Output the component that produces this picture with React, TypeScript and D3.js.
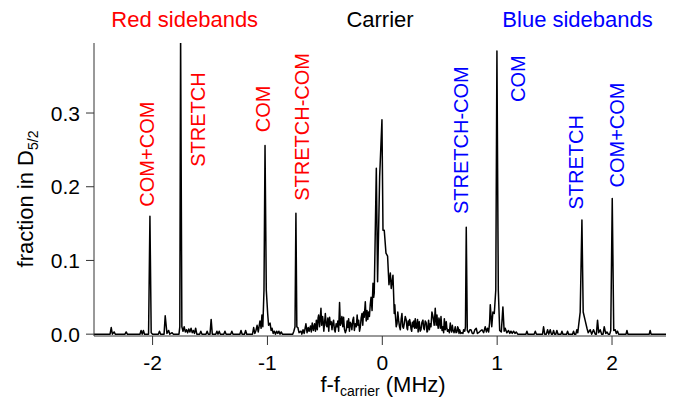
import React from 'react';
import * as d3 from 'd3';

// spectrum: [f - f_carrier (MHz), fraction in D5/2]
const redSidebandScan: [number, number][] = [
  [-2.51, 0], [-2.37, 0], [-2.36, 0.009], [-2.35, 0], [-2.335, 0.003], [-2.325, 0],
  [-2.24, 0], [-2.23, 0.003], [-2.22, 0],
  [-2.11, 0], [-2.1, 0.005], [-2.09, 0], [-2.08, 0.005], [-2.07, 0],
  [-2.035, 0], [-2.023, 0.16], [-2.012, 0.002], [-2.0, 0],
  [-1.95, 0], [-1.94, 0.004], [-1.93, 0],
  [-1.9, 0], [-1.89, 0.025], [-1.875, 0.001], [-1.86, 0.005], [-1.85, 0], [-1.83, 0.002], [-1.82, 0],
  [-1.77, 0], [-1.763, 0.01], [-1.756, 0.41], [-1.745, 0.01], [-1.735, 0.004], [-1.725, 0.01],
  [-1.715, 0.003], [-1.705, 0.006], [-1.695, 0.002], [-1.685, 0.007], [-1.675, 0.003], [-1.665, 0.008],
  [-1.655, 0.002], [-1.645, 0.005], [-1.635, 0.001], [-1.625, 0.008], [-1.615, 0],
  [-1.59, 0], [-1.58, 0.004], [-1.57, 0],
  [-1.535, 0], [-1.525, 0.004], [-1.515, 0],
  [-1.5, 0], [-1.49, 0.02], [-1.48, 0],
  [-1.45, 0], [-1.44, 0.004], [-1.43, 0], [-1.42, 0.004], [-1.41, 0],
  [-1.38, 0], [-1.37, 0.004], [-1.36, 0],
  [-1.32, 0], [-1.31, 0.004], [-1.3, 0],
  [-1.24, 0], [-1.23, 0.005], [-1.22, 0],
  [-1.2, 0], [-1.19, 0.005], [-1.18, 0],
  [-1.13, 0], [-1.12, 0.009], [-1.11, 0.001], [-1.1, 0.005], [-1.09, 0.012], [-1.08, 0.003],
  [-1.065, 0.018], [-1.055, 0.008], [-1.048, 0.026], [-1.04, 0.01], [-1.03, 0.06], [-1.021, 0.256],
  [-1.01, 0.06], [-0.998, 0.028], [-0.99, 0.012], [-0.977, 0.015], [-0.968, 0.005], [-0.96, 0.008],
  [-0.95, 0.001], [-0.94, 0.004], [-0.93, 0], [-0.92, 0.004], [-0.91, 0.001], [-0.9, 0.004],
  [-0.89, 0], [-0.88, 0.003], [-0.87, 0],
  [-0.78, 0], [-0.77, 0.004], [-0.76, 0.01], [-0.752, 0.164], [-0.744, 0.01], [-0.735, 0.009],
  [-0.725, 0.002], [-0.708, 0.004], [-0.7, 0], [-0.69, 0.006], [-0.68, 0.001], [-0.665, 0.014],
  [-0.655, 0.002], [-0.645, 0.009], [-0.637, 0.004], [-0.625, 0.011], [-0.618, 0.003], [-0.61, 0.015],
  [-0.6, 0.005],
];

const carrierScan: [number, number][] = [
  [-0.59, 0.014], [-0.582, 0.004], [-0.574, 0.019], [-0.566, 0.006], [-0.559, 0.022], [-0.554, 0.026],
  [-0.546, 0.01], [-0.534, 0.035], [-0.528, 0.012], [-0.52, 0.024], [-0.516, 0.019], [-0.509, 0.004],
  [-0.5, 0.02], [-0.496, 0.028], [-0.488, 0.012], [-0.481, 0.01], [-0.474, 0.022], [-0.466, 0.004],
  [-0.459, 0.023], [-0.452, 0.013], [-0.445, 0.017], [-0.438, 0.006], [-0.431, 0.015], [-0.424, 0.019],
  [-0.417, 0.006], [-0.41, 0.003], [-0.402, 0.014], [-0.394, 0.01], [-0.387, 0.018], [-0.38, 0.004],
  [-0.372, 0.043], [-0.365, 0.012], [-0.359, 0.015], [-0.352, 0.024], [-0.344, 0.01], [-0.337, 0.023],
  [-0.33, 0.007], [-0.322, 0.002], [-0.313, 0.006], [-0.306, 0.018], [-0.3, 0.009], [-0.293, 0.021],
  [-0.286, 0.004], [-0.279, 0.016], [-0.272, 0.014], [-0.265, 0.006], [-0.257, 0.019], [-0.25, 0.023],
  [-0.243, 0.005], [-0.235, 0.014], [-0.226, 0.01], [-0.219, 0.026], [-0.212, 0.012], [-0.206, 0.019],
  [-0.198, 0.004], [-0.191, 0.01], [-0.184, 0.022], [-0.177, 0.028], [-0.17, 0.012], [-0.163, 0.03],
  [-0.157, 0.023], [-0.148, 0.044], [-0.14, 0.018], [-0.133, 0.032], [-0.126, 0.02], [-0.119, 0.03],
  [-0.112, 0.024], [-0.105, 0.04], [-0.098, 0.05], [-0.089, 0.032], [-0.081, 0.069], [-0.075, 0.05],
  [-0.07, 0.056], [-0.052, 0.225], [-0.041, 0.071], [-0.023, 0.214], [-0.003, 0.291], [0.006, 0.141],
  [0.017, 0.141], [0.032, 0.11], [0.046, 0.106], [0.058, 0.067], [0.07, 0.083], [0.078, 0.062],
  [0.093, 0.08], [0.104, 0.028], [0.109, 0.04], [0.113, 0.028], [0.121, 0.01], [0.128, 0.014],
  [0.135, 0.03], [0.142, 0.019], [0.15, 0.01], [0.157, 0.006], [0.164, 0.02], [0.171, 0.028],
  [0.178, 0.01], [0.184, 0.008], [0.191, 0.014], [0.2, 0.024], [0.209, 0.019], [0.215, 0.008],
  [0.22, 0.006], [0.226, 0.018], [0.232, 0.012], [0.238, 0.02], [0.244, 0.015], [0.25, 0.007],
  [0.256, 0.004], [0.262, 0.016], [0.267, 0.01], [0.275, 0.018], [0.281, 0.008], [0.287, 0.021],
  [0.295, 0.008], [0.302, 0.012], [0.307, 0.02], [0.312, 0.003], [0.317, 0.01], [0.322, 0.017],
  [0.33, 0.004], [0.337, 0.006], [0.345, 0.016], [0.354, 0.019], [0.36, 0.008], [0.366, 0.006],
  [0.374, 0.018], [0.383, 0.015], [0.389, 0.003], [0.394, 0.004], [0.403, 0.019], [0.41, 0.006],
  [0.417, 0.014], [0.424, 0.01], [0.432, 0.03], [0.441, 0.024], [0.452, 0.012], [0.461, 0.035],
  [0.469, 0.012], [0.476, 0.026], [0.481, 0.014], [0.487, 0.008], [0.493, 0.022], [0.499, 0.017],
  [0.505, 0.008], [0.511, 0.024], [0.516, 0.012], [0.52, 0.005], [0.528, 0.01], [0.534, 0.002],
  [0.54, 0.021], [0.548, 0.006], [0.557, 0.017], [0.562, 0.008], [0.568, 0.004], [0.577, 0.006],
  [0.584, 0.002], [0.592, 0.015], [0.598, 0.006], [0.604, 0.003], [0.61, 0.012], [0.615, 0.006],
  [0.625, 0.002], [0.635, 0.01], [0.642, 0.002], [0.65, 0.003], [0.656, 0.01], [0.662, 0.008],
  [0.668, 0.001], [0.673, 0.006], [0.684, 0.001], [0.694, 0.002], [0.702, 0.001], [0.708, 0.006],
];

const blueSidebandScan: [number, number][] = [
  [0.718, 0.004], [0.724, 0.01], [0.731, 0.145], [0.74, 0.005], [0.751, 0.002], [0.762, 0.006],
  [0.772, 0.006], [0.784, 0.001], [0.795, 0.001], [0.806, 0.006], [0.818, 0.008], [0.828, 0.001],
  [0.838, 0.002], [0.852, 0.004], [0.868, 0.006], [0.882, 0.002], [0.896, 0.01], [0.906, 0.003],
  [0.916, 0.008], [0.926, 0.003], [0.934, 0.015], [0.94, 0.04], [0.953, 0.01], [0.963, 0.03],
  [0.975, 0.028], [0.988, 0.06], [0.998, 0.384], [1.01, 0.06], [1.022, 0.005], [1.036, 0.003],
  [1.05, 0.037], [1.061, 0.004], [1.07, 0.008], [1.084, 0.002], [1.099, 0.005], [1.11, 0.001],
  [1.12, 0.004], [1.131, 0.001], [1.143, 0.004], [1.155, 0.001], [1.166, 0.003], [1.179, 0],
  [1.25, 0], [1.259, 0.004], [1.268, 0],
  [1.322, 0], [1.332, 0.004], [1.342, 0],
  [1.395, 0], [1.404, 0.01], [1.414, 0], [1.428, 0], [1.439, 0.006], [1.449, 0], [1.462, 0.006],
  [1.472, 0], [1.482, 0], [1.491, 0.005], [1.5, 0], [1.51, 0], [1.52, 0.005], [1.53, 0],
  [1.555, 0], [1.564, 0.004], [1.573, 0],
  [1.604, 0], [1.613, 0.004], [1.622, 0],
  [1.656, 0], [1.665, 0.004], [1.674, 0], [1.685, 0], [1.694, 0.006], [1.702, 0.002], [1.708, 0.01],
  [1.723, 0.03], [1.738, 0.155], [1.749, 0.03], [1.767, 0.018], [1.782, 0.008], [1.793, 0.002],
  [1.81, 0.006], [1.823, 0], [1.839, 0.006], [1.854, 0], [1.864, 0], [1.874, 0.019], [1.884, 0.002],
  [1.897, 0.006], [1.91, 0], [1.922, 0], [1.932, 0.01], [1.945, 0.001], [1.956, 0.003], [1.967, 0],
  [1.98, 0], [1.989, 0.005], [2.002, 0.184], [2.015, 0.005], [2.028, 0.006], [2.037, 0.001],
  [2.048, 0.004], [2.058, 0],
  [2.122, 0], [2.13, 0.005], [2.138, 0],
  [2.324, 0], [2.332, 0.005], [2.34, 0],
  [2.47, 0],
];

const xTicks = [-2, -1, 0, 1, 2];
const yTicks = [0, 0.1, 0.2, 0.3];

// group headings at their frequency
const groupNames = ['Red sidebands', 'Carrier', 'Blue sidebands'];
const groupFreqs = [-1.72, -0.02, 1.7];

// peak labels: text, anchor frequency and fraction (bottom of rotated text)
const redLabels = ['COM+COM', 'STRETCH', 'COM', 'STRETCH-COM'];
const redLabelFreqs = [-1.991, -1.54, -0.975, -0.635];
const redLabelLevels = [0.173, 0.227, 0.274, 0.181];
const blueLabels = ['STRETCH-COM', 'COM', 'STRETCH', 'COM+COM'];
const blueLabelFreqs = [0.748, 1.245, 1.749, 2.106];
const blueLabelLevels = [0.163, 0.315, 0.169, 0.199];

const W = 673;
const H = 404;
const font = '"Liberation Sans", Arial, sans-serif';

const App = () => {
  const x = d3.scaleLinear().domain([-2.51, 2.47]).range([94, 666]);
  const y = d3.scaleLinear().domain([-0.0025, 0.395]).range([336, 43]);

  const spectrum = [...redSidebandScan, ...carrierScan, ...blueSidebandScan];
  const line = d3.line<[number, number]>()
    .x(d => x(d[0]))
    .y(d => y(d[1]));

  const [x0, x1] = x.range();
  const [y0, y1] = y.range();
  const axisColor = '#333';

  const label = (text: string, f: number, v: number, color: string) => (
    <text
      key={text + f}
      x={x(f)}
      y={y(v)}
      transform={`rotate(-90, ${x(f)}, ${y(v)})`}
      fontSize={20}
      fill={color}
    >
      {text}
    </text>
  );

  return (
    <svg
      width={W}
      height={H}
      style={{ position: 'absolute', left: 0, top: 0, background: '#fff' }}
      fontFamily={font}
    >
      <defs>
        <clipPath id="plot">
          <rect x={x0} y={y1} width={x1 - x0} height={y0 - y1} />
        </clipPath>
      </defs>

      {groupNames.map((g, i) => (
        <text
          key={g}
          x={x(groupFreqs[i])}
          y={27}
          textAnchor="middle"
          fontSize={22}
          fill={i === 0 ? '#ff0000' : i === 2 ? '#0000ff' : '#000'}
        >
          {g}
        </text>
      ))}

      {redLabels.map((t, i) => label(t, redLabelFreqs[i], redLabelLevels[i], '#ff0000'))}
      {blueLabels.map((t, i) => label(t, blueLabelFreqs[i], blueLabelLevels[i], '#0000ff'))}

      <path
        d={line(spectrum) ?? ''}
        fill="none"
        stroke="#000"
        strokeWidth={1.5}
        strokeLinejoin="round"
        clipPath="url(#plot)"
      />

      {/* y axis */}
      <line x1={x0} x2={x0} y1={y1} y2={y0} stroke={axisColor} />
      {yTicks.map(t => (
        <g key={t}>
          <line x1={x0 - 8} x2={x0} y1={y(t)} y2={y(t)} stroke={axisColor} />
          <text x={x0 - 14} y={y(t)} dy="0.36em" textAnchor="end" fontSize={21}>
            {t.toFixed(1)}
          </text>
        </g>
      ))}
      <text
        transform={`translate(33, 199) rotate(-90)`}
        textAnchor="middle"
        fontSize={22}
      >
        fraction in D<tspan fontSize={14} dy={5}>5/2</tspan>
      </text>

      {/* x axis */}
      <line x1={x0} x2={x1} y1={y0} y2={y0} stroke={axisColor} />
      {xTicks.map(t => (
        <g key={t}>
          <line x1={x(t)} x2={x(t)} y1={y0} y2={y0 + 9} stroke={axisColor} />
          <text x={x(t)} y={370} textAnchor="middle" fontSize={21}>
            {String(t)}
          </text>
        </g>
      ))}
      <text x={383} y={392} textAnchor="middle" fontSize={22}>
        f-f<tspan fontSize={14} dy={4}>carrier</tspan>
        <tspan dy={-4}> (MHz)</tspan>
      </text>
    </svg>
  );
};

export default App;
